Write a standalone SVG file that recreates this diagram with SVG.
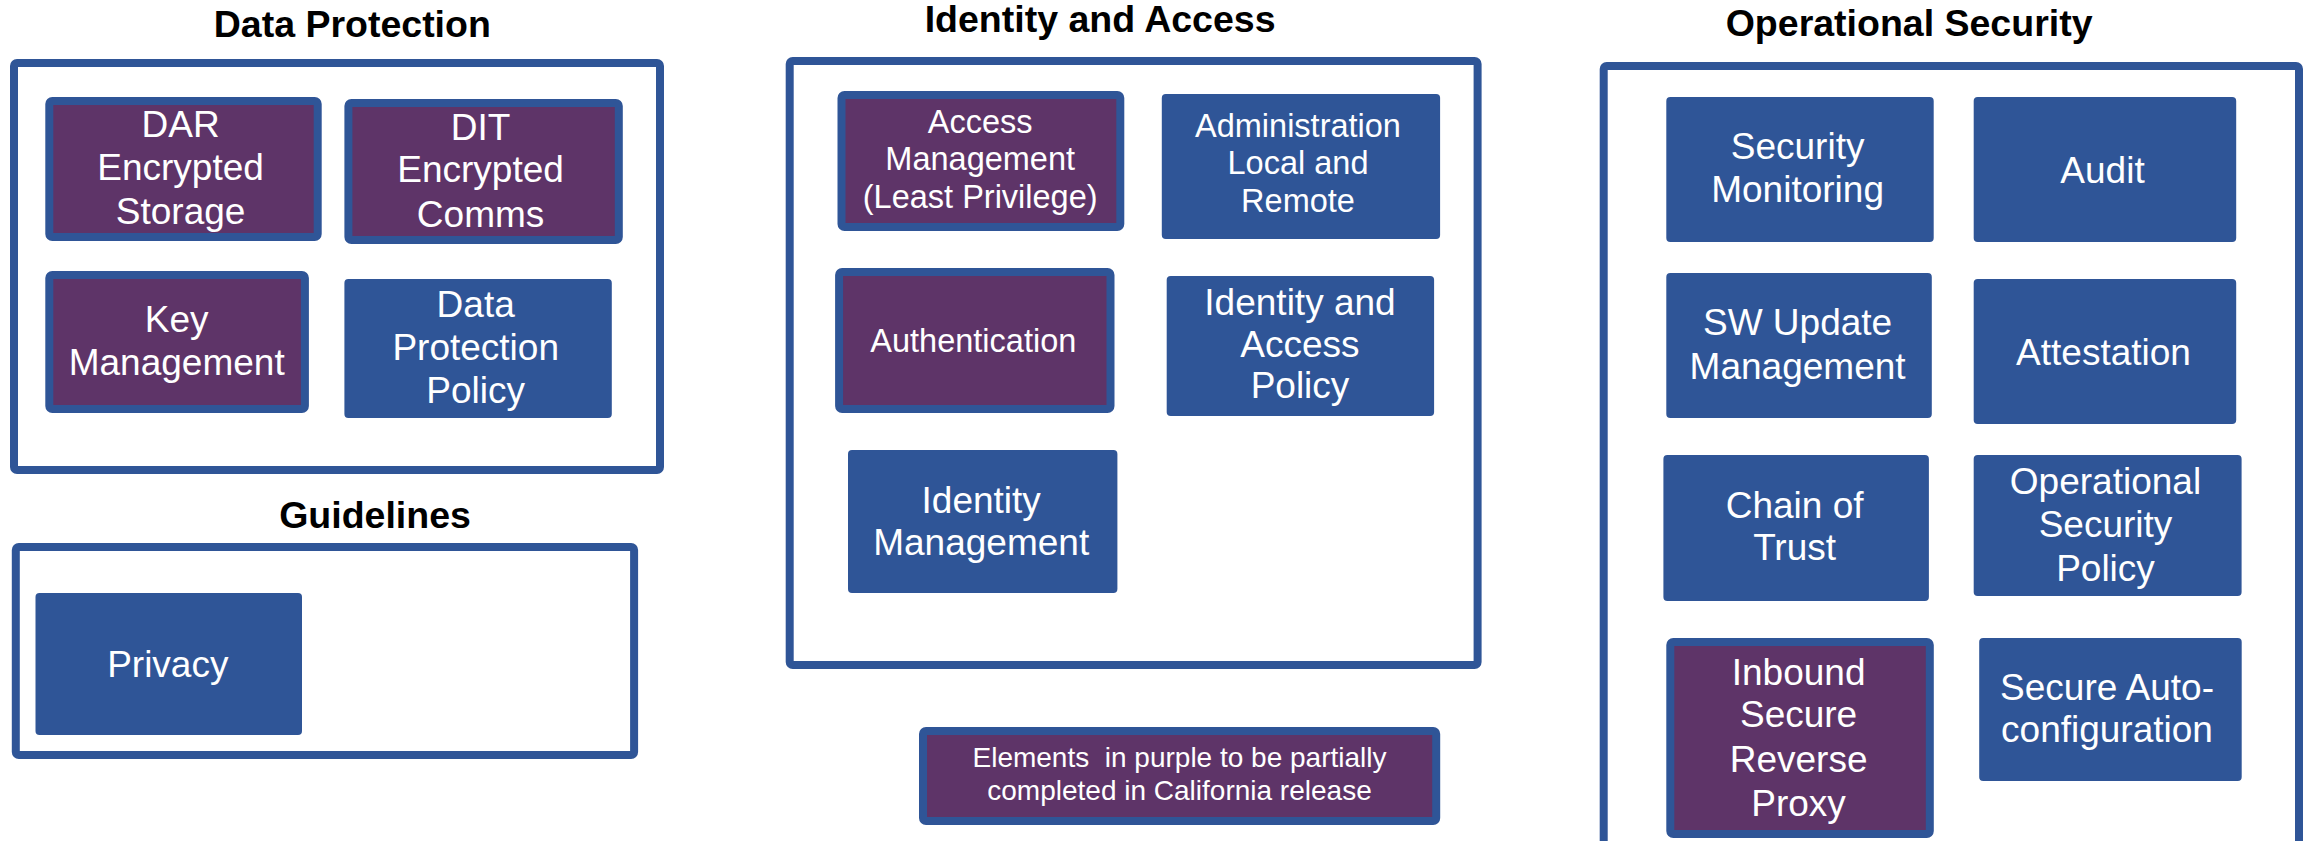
<svg xmlns="http://www.w3.org/2000/svg" width="2310" height="841" viewBox="0 0 2310 841">
<style>
.title{font-family:"Liberation Sans",Arial,sans-serif;font-weight:bold;font-size:37.5px;fill:#000;text-anchor:middle}
.frame{fill:none;stroke:#2F5597;stroke-width:8}
.blue{fill:#2F5597}
.purple{fill:#5E3468;stroke:#2F5597;stroke-width:8}
.lbl{font-family:"Liberation Sans",Arial,sans-serif;font-size:37px;fill:#fff;text-anchor:middle}
.sm{font-size:32.5px}
.xs{font-size:28px}
</style>
<rect width="2310" height="841" fill="#fff"/>
<g id="connectors"></g>

<g id="data-protection">
<text class="title" x="352.3" y="37">Data Protection</text>
<rect class="frame" x="14" y="63" width="646" height="407" rx="3"/>
</g>
<g id="dar"><rect class="purple" x="49.3" y="101" width="268.4" height="136" rx="3"/>
<text class="lbl"><tspan x="180.6" y="137">DAR</tspan><tspan x="180.6" y="180">Encrypted</tspan><tspan x="180.6" y="224">Storage</tspan></text></g>
<g id="dit"><rect class="purple" x="348.4" y="103" width="270.4" height="137" rx="3"/>
<text class="lbl"><tspan x="480.6" y="140">DIT</tspan><tspan x="480.6" y="182">Encrypted</tspan><tspan x="480.6" y="227">Comms</tspan></text></g>
<g id="key-management"><rect class="purple" x="49.3" y="275" width="255.6" height="134" rx="3"/>
<text class="lbl"><tspan x="176.7" y="332">Key</tspan><tspan x="176.7" y="375">Management</tspan></text></g>
<g id="data-protection-policy"><rect class="blue" x="344.4" y="279" width="267.4" height="139" rx="4"/>
<text class="lbl"><tspan x="475.7" y="317">Data</tspan><tspan x="475.7" y="360">Protection</tspan><tspan x="475.7" y="403">Policy</tspan></text></g>

<g id="guidelines">
<text class="title" x="375" y="528">Guidelines</text>
<rect class="frame" x="15.8" y="547" width="618.3" height="208" rx="3"/>
</g>
<g id="privacy"><rect class="blue" x="35.5" y="593" width="266.5" height="142" rx="4"/>
<text class="lbl" x="167.8" y="677">Privacy</text></g>

<g id="identity-and-access">
<text class="title" x="1100.1" y="32">Identity and Access</text>
<rect class="frame" x="789.7" y="61" width="687.9" height="604" rx="3"/>
</g>
<g id="access-management"><rect class="purple" x="841.5" y="95" width="278.8" height="132" rx="3"/>
<text class="lbl sm"><tspan x="980.2" y="133">Access</tspan><tspan x="980.2" y="170">Management</tspan><tspan x="980.2" y="208">(Least Privilege)</tspan></text></g>
<g id="administration"><rect class="blue" x="1161.8" y="94" width="278.3" height="145" rx="4"/>
<text class="lbl sm"><tspan x="1298" y="137">Administration</tspan><tspan x="1298" y="174">Local and</tspan><tspan x="1298" y="212">Remote</tspan></text></g>
<g id="authentication"><rect class="purple" x="839.1" y="272" width="271.4" height="137" rx="3"/>
<text class="lbl sm" x="973.3" y="352">Authentication</text></g>
<g id="identity-access-policy"><rect class="blue" x="1166.7" y="276" width="267.4" height="140" rx="4"/>
<text class="lbl"><tspan x="1300" y="315">Identity and</tspan><tspan x="1300" y="357">Access</tspan><tspan x="1300" y="398">Policy</tspan></text></g>
<g id="identity-management"><rect class="blue" x="848" y="450" width="269.4" height="143" rx="4"/>
<text class="lbl"><tspan x="981.2" y="513">Identity</tspan><tspan x="981.2" y="555">Management</tspan></text></g>

<g id="legend"><rect class="purple" x="923" y="731" width="513.2" height="90" rx="3"/>
<text class="lbl xs" xml:space="preserve"><tspan x="1179.5" y="767">Elements  in purple to be partially</tspan><tspan x="1179.5" y="800">completed in California release</tspan></text></g>

<g id="operational-security">
<text class="title" x="1909.1" y="36">Operational Security</text>
<rect class="frame" x="1603.7" y="66" width="695.3" height="779" rx="3"/>
</g>
<g id="security-monitoring"><rect class="blue" x="1666.3" y="97" width="267.4" height="145" rx="4"/>
<text class="lbl"><tspan x="1797.6" y="159">Security</tspan><tspan x="1797.6" y="202">Monitoring</tspan></text></g>
<g id="audit"><rect class="blue" x="1973.7" y="97" width="262.5" height="145" rx="4"/>
<text class="lbl" x="2102.5" y="183">Audit</text></g>
<g id="sw-update"><rect class="blue" x="1666.3" y="273" width="265.5" height="145" rx="4"/>
<text class="lbl"><tspan x="1797.6" y="335">SW Update</tspan><tspan x="1797.6" y="379">Management</tspan></text></g>
<g id="attestation"><rect class="blue" x="1973.7" y="279" width="262.5" height="145" rx="4"/>
<text class="lbl" x="2103.5" y="365">Attestation</text></g>
<g id="chain-of-trust"><rect class="blue" x="1663.4" y="455" width="265.5" height="146" rx="4"/>
<text class="lbl"><tspan x="1794.6" y="518">Chain of</tspan><tspan x="1794.6" y="560">Trust</tspan></text></g>
<g id="operational-security-policy"><rect class="blue" x="1973.7" y="455" width="267.9" height="141" rx="4"/>
<text class="lbl"><tspan x="2105.5" y="494">Operational</tspan><tspan x="2105.5" y="537">Security</tspan><tspan x="2105.5" y="581">Policy</tspan></text></g>
<g id="inbound-proxy"><rect class="purple" x="1670.3" y="642" width="259.5" height="192" rx="3"/>
<text class="lbl"><tspan x="1798.6" y="685">Inbound</tspan><tspan x="1798.6" y="727">Secure</tspan><tspan x="1798.6" y="772">Reverse</tspan><tspan x="1798.6" y="816">Proxy</tspan></text></g>
<g id="secure-autoconfig"><rect class="blue" x="1979.2" y="638" width="262.5" height="143" rx="4"/>
<text class="lbl"><tspan x="2107" y="700">Secure Auto-</tspan><tspan x="2107" y="742">configuration</tspan></text></g>
</svg>
